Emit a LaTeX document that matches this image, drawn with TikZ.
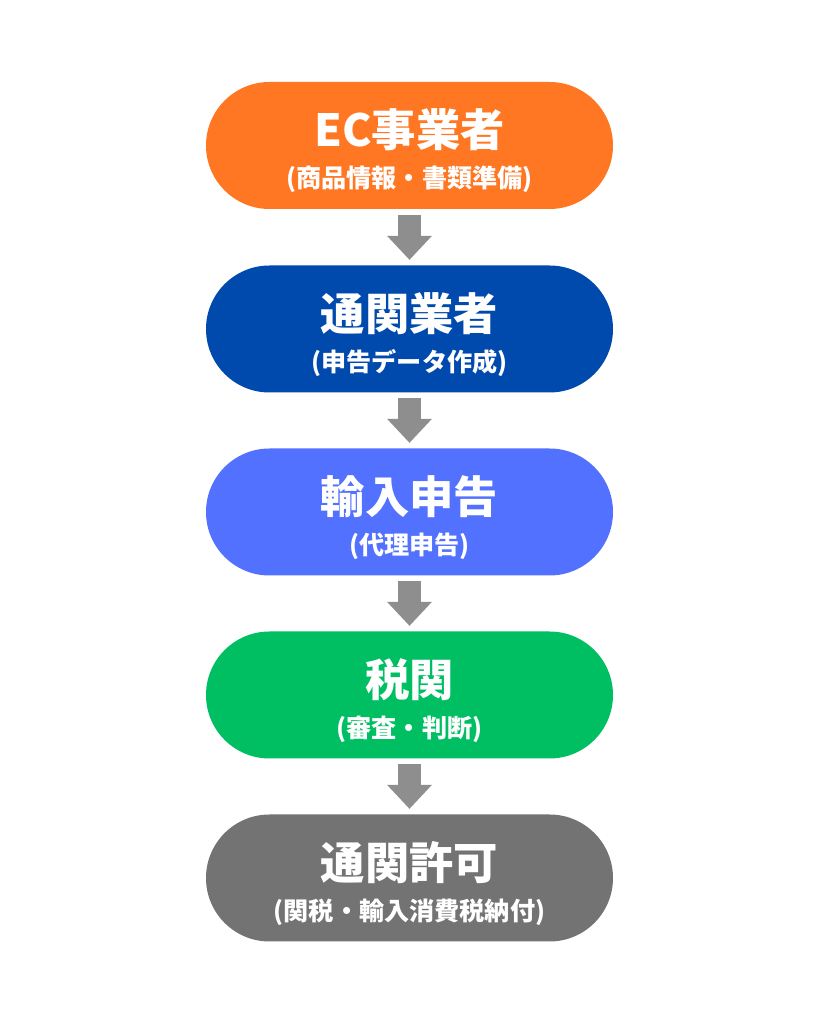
\documentclass[tikz,border=0pt]{standalone}
\usepackage{fontspec}
\setmainfont{Noto Sans CJK JP}
\usepackage{xcolor}
\usepackage{tikz}
\usetikzlibrary{arrows.meta}

\definecolor{ecorange}{HTML}{FF7722}
\definecolor{navyblue}{HTML}{004AAD}
\definecolor{skyblue}{HTML}{5271FF}
\definecolor{taxgreen}{HTML}{00BF63}
\definecolor{permitgray}{HTML}{737373}
\definecolor{arrowgray}{HTML}{8E8E8E}

\begin{document}
\begin{tikzpicture}
\useasboundingbox[fill=white] (0,0) rectangle (8.19,10.24);
\begin{scope}[every node/.style={rounded corners=0.635cm,minimum width=4.07cm,minimum height=1.27cm,inner sep=0pt}]
    \node[fill=ecorange] (ec) at (4.095,8.785) {};
    \node[fill=navyblue] (broker) at (4.095,6.95) {};
    \node[fill=skyblue] (declare) at (4.095,5.12) {};
    \node[fill=taxgreen] (customs) at (4.095,3.29) {};
    \node[fill=permitgray] (permit) at (4.095,1.46) {};
\end{scope}
\begin{scope}[every node/.style={text=white,font=\bfseries\fontsize{12.6}{14}\selectfont,inner sep=0pt}]
    \node (ectitle) at (4.095,8.94) {EC事業者};
    \node (brokertitle) at (4.095,7.105) {通関業者};
    \node (declaretitle) at (4.095,5.275) {輸入申告};
    \node (customstitle) at (4.095,3.445) {税関};
    \node (permittitle) at (4.095,1.615) {通関許可};
\end{scope}
\begin{scope}[every node/.style={text=white,font=\bfseries\fontsize{7.15}{8}\selectfont,inner sep=0pt}]
    \node (ecsub) at (4.095,8.445) {(商品情報・書類準備)};
    \node (brokersub) at (4.095,6.61) {(申告データ作成)};
    \node (declaresub) at (4.095,4.78) {(代理申告)};
    \node (customssub) at (4.095,2.95) {(審査・判断)};
    \node (permitsub) at (4.095,1.12) {(関税・輸入消費税納付)};
\end{scope}
\begin{scope}[>={Triangle[width=0.45cm,length=0.24cm,line width=0pt]},
              every edge/.style={draw=arrowgray,fill=arrowgray,line width=0.23cm,shorten <=0.05cm,shorten >=0.05cm}]
    \path [->] (ec) edge (broker);
    \path [->] (broker) edge (declare);
    \path [->] (declare) edge (customs);
    \path [->] (customs) edge (permit);
\end{scope}
\end{tikzpicture}
\end{document}
